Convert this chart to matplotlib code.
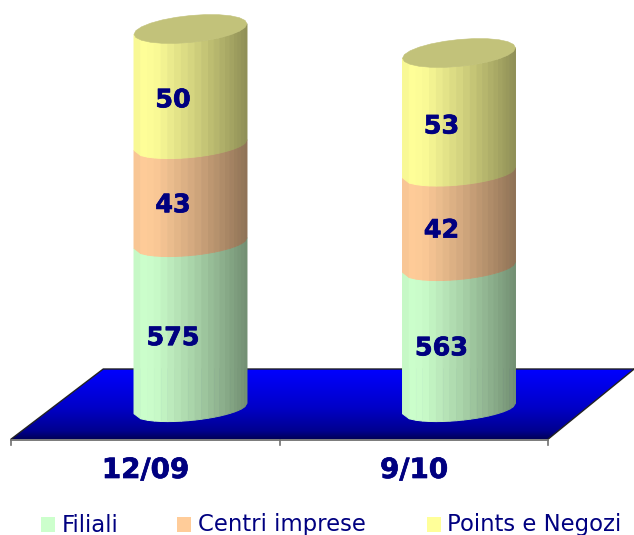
import numpy as np
import matplotlib
matplotlib.use("Agg")
import matplotlib.pyplot as plt
import matplotlib.patheffects as pe
from matplotlib.colors import LinearSegmentedColormap, to_rgb
from matplotlib.patches import Polygon

categories = ["12/09", "9/10"]
series_names = ["Filiali", "Centri imprese", "Points e Negozi"]
filiali = [575, 563]
centri = [43, 42]
points = [50, 53]
# the original chart's drawn heights do not follow the labels, so they are read separately
filiali_drawn = [165.5, 141.5]
centri_drawn = [98, 94.5]
points_drawn = [116, 119.5]

colors = ["#CCFFCC", "#FFCC99", "#FFFF99"]
navy = "#000080"

W, H = 634, 535
fig = plt.figure(figsize=(W / 100, H / 100), dpi=100)
ax = fig.add_axes([0, 0, 1, 1])
ax.axis("off")

# x: one category = 268.5 px, y: one drawn unit = 1 px
UNIT = 268.5
X0 = 145.5
Y0 = 408.5
xlim = ((0 - X0) / UNIT, (W - X0) / UNIT)
ylim = (Y0 - H, Y0)
DEPTH = 45 / UNIT
HALF = 56.5 / UNIT
RISE = 5.25            # half of the rise across the cylinder, px
n = len(categories)
heavy = [pe.withStroke(linewidth=0.5, foreground=navy)]

# floor
fl_front, fl_back = -30.5, 39.5
fl_left, fl_right = -0.5, n - 0.5
skew = 92 / UNIT
floor_pts = [(fl_left, fl_front), (fl_left + skew, fl_back),
             (fl_right + 0.32, fl_back), (fl_right, fl_front)]
cmap = LinearSegmentedColormap.from_list(
    "floor", [(0, "#00005A"), (0.12, "#000090"), (0.45, "#0000C8"), (1, "#0000FF")])
im = ax.imshow(np.linspace(0, 1, 256)[:, None], origin="lower", cmap=cmap, aspect="auto",
               extent=(fl_left, fl_right + 0.4, fl_front, fl_back), zorder=1)
clip = Polygon(floor_pts, closed=True, transform=ax.transData, fill=False, edgecolor="none")
ax.add_patch(clip)
im.set_clip_path(clip)
ax.plot([floor_pts[0][0], floor_pts[1][0], floor_pts[2][0]],
        [floor_pts[0][1], floor_pts[1][1], floor_pts[2][1]], color="#222222", lw=1, zorder=2)
ax.plot([floor_pts[2][0], floor_pts[3][0]], [floor_pts[2][1], floor_pts[3][1]],
        color="#222222", lw=1, zorder=2)

# category axis
ax.plot([fl_left, fl_right], [fl_front - 1, fl_front - 1], color="#707070", lw=1.3, zorder=2)
for t in np.arange(n + 1) - 0.5:
    ax.plot([t, t], [fl_front - 1, fl_front - 6], color="#707070", lw=1.2, zorder=2)

strips = np.array([0, .06, .12, .18, .24, .30, .36, .42, .48, .54, .60, .66, .71, .76,
                   .81, .85, .89, .92, .95, .98, 1.0])


def shade(u):
    return np.interp(u, [0, .1, .2, .5, .8, 1.0], [.96, 1.0, .98, .84, .68, .56])


def lower(u, base, b):
    t = 2 * u - 1
    return base + RISE * t - b * np.sqrt(np.clip(1 - t * t, 0, 1))


def ellipse(c, base, b, zorder, color):
    th = np.linspace(0, 2 * np.pi, 25)
    xs = c + DEPTH + HALF * np.cos(th)
    ys = base + RISE * np.cos(th) + b * np.sin(th)
    ax.fill(xs, ys, color=color, lw=0.4, zorder=zorder)


series = [filiali, centri, points]
drawn = [filiali_drawn, centri_drawn, points_drawn]
for i in range(n):
    base = 0.0
    for j, (vals, hts, col) in enumerate(zip(series, drawn, colors)):
        top = base + hts[i]
        rgb = np.array(to_rgb(col))
        b_lo = 12.0 if j == 0 else 12.5
        b_hi = 12.5 if j < 2 else 13.5
        for u0, u1 in zip(strips[:-1], strips[1:]):
            um = np.array([u0, u1])
            xs = i + DEPTH - HALF + um * 2 * HALF
            lo = lower(um, base, b_lo)
            hi = lower(um, top, b_hi)
            ax.fill(np.r_[xs, xs[::-1]], np.r_[lo, hi[::-1]],
                    color=tuple(rgb * shade((u0 + u1) / 2)), lw=0.7, zorder=3 + j)
        ax.text(i + DEPTH - 17.5 / UNIT, base + hts[i] * (0.385 if j else 0.425), str(vals[i]),
                color=navy, fontsize=18.3, fontweight="bold", ha="center", va="center",
                zorder=10, path_effects=heavy)
        base = top
    ellipse(i, base, 13.5, 8, tuple(np.array(to_rgb(colors[2])) * np.array([.76, .76, .8])))
    ax.text(i, -61.5, categories[i], color=navy, fontsize=20, fontweight="bold",
            ha="center", va="center", zorder=10, path_effects=heavy)

# legend
for name, col, mx, tx in zip(series_names, colors, [41, 177, 427], [62, 198, 447]):
    ax.fill_between([(mx - X0) / UNIT, (mx + 14 - X0) / UNIT], Y0 - 532, Y0 - 517, color=col, lw=0)
    ax.text((tx - X0) / UNIT, Y0 - 525, name, color=navy, fontsize=16.4, ha="left", va="center")

ax.set_xlim(*xlim)
ax.set_ylim(*ylim)
fig.savefig("out.png", dpi=100)
